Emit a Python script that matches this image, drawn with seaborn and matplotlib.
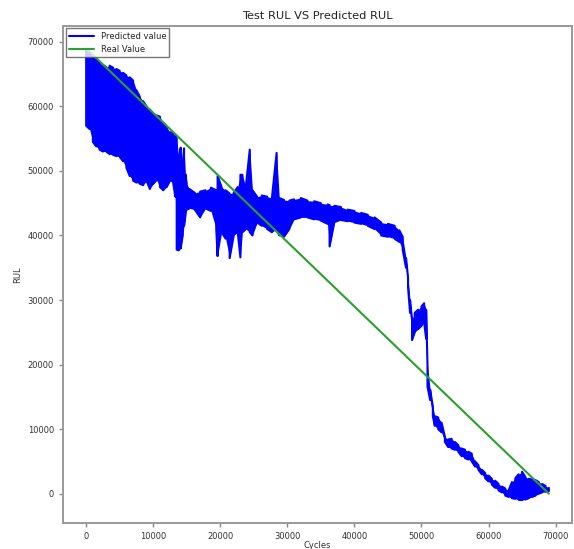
import matplotlib
matplotlib.use("Agg")
import matplotlib.pyplot as plt
import seaborn as sns
import pandas as pd

font_size = 6

sns.set_style("ticks")
plt.rcParams["font.family"] = ["DejaVu Sans"]

# envelope of the (noisy) predicted RUL
pred_cycles = [
    0, 500, 1000, 1500, 2000, 2500, 3000, 3500, 4000, 4500, 5000, 5500,
    6000, 6500, 7000, 7500, 8000, 8500, 9000, 9500, 10000, 10500, 11000,
    11500, 12000, 12500, 13000, 13300, 13500, 13800, 14100, 14400, 14600,
    14800, 15000, 15400, 16200, 17000, 17800, 18600, 19400, 19600, 20200,
    20800, 21400, 22000, 22600, 23000, 23300, 23800, 24400, 24800, 25500,
    26200, 27000, 27700, 28400, 28800, 29500, 30300, 31000, 32000, 33000,
    34000, 35000, 36000, 36300, 37000, 38000, 39000, 40000, 41000, 42000,
    43000, 44000, 45000, 46000, 46700, 47200, 47700, 48000, 48300, 48600,
    49000, 49500, 50000, 50400, 50700, 50900, 51300, 51700, 52000, 52500,
    53000, 53500, 54000, 54500, 55000, 55500, 56000, 56500, 57000, 57500,
    58000, 58500, 59000, 59500, 60000, 60500, 61000, 61500, 62000, 62500,
    63000, 63500, 64000, 64500, 65000, 65500, 66000, 66500, 67000, 67500,
    68000, 68500, 69000,
]
pred_upper = [
    68800, 68500, 67800, 67300, 66800, 66400, 66100, 66300, 66000, 65800,
    65500, 65200, 64800, 64500, 64000, 62500, 61500, 60800, 60000, 59500,
    58800, 58600, 58400, 57500, 56800, 56000, 55800, 55500, 55000, 52000,
    53600, 51000, 53500, 49500, 48000, 47200, 46600, 46800, 47000, 47400,
    47000, 49200, 47500, 47000, 46500, 46600, 47500, 49400, 49400, 47500,
    53300, 47000, 46000, 46200, 46000, 45800, 52800, 45800, 45500, 45400,
    45600, 45800, 45400, 45300, 45000, 44800, 44700, 44600, 44400, 44000,
    43800, 43500, 43200, 42800, 42000, 41800, 41500, 40800, 39800, 36500,
    33500, 30000, 27000, 28000, 28500, 29000, 29500, 28500, 20000, 16100,
    13500, 12000, 11800, 11000, 8800, 8400, 8500, 8000, 7500, 7000, 6800,
    6500, 6200, 5000, 4400, 3700, 3200, 2800, 2300, 2000, 1500, 1100, 800,
    500, 1800, 2400, 3000, 3400, 2600, 2300, 2200, 2100, 1800, 1500, 1200,
    900,
]
pred_lower = [
    57000, 56500, 54500, 53800, 53300, 53000, 53000, 52600, 52500, 52300,
    52200, 51500, 50500, 49200, 48500, 48200, 48000, 47800, 48500, 47200,
    48000, 48600, 47500, 47000, 47500, 48500, 48000, 46000, 37800, 37700,
    38000, 40000, 41500, 43000, 44000, 44200, 44000, 42800, 44200, 43800,
    41000, 36800, 40500, 39500, 36500, 40000, 40500, 36600, 40500, 41000,
    40500, 40000, 42000, 41500, 41000, 40500, 41000, 40000, 39800, 41000,
    42500, 42800, 42800, 42500, 42300, 41800, 38300, 42000, 42400, 42200,
    42000, 41800, 41500, 41000, 40000, 39800, 39500, 39000, 37800, 35000,
    32000, 28000, 23800, 25000, 25500, 26000, 26500, 24000, 16600, 14500,
    12000, 10500, 10000, 9500, 8000, 7200, 7000, 6800, 6500, 5800, 5500,
    5300, 5000, 4200, 3700, 3000, 2400, 1900, 1400, 900, 500, 200, -300,
    -500, -700, -800, -950, -1000, -900, -700, -500, -300, 0, 200, 300,
    400,
]

real_cycles = [0, 69000]
real_rul = [69000, 0]

# zigzag between upper and lower values so the band is drawn as one line
xs, ys = [], []
for i, c in enumerate(pred_cycles):
    if i % 2 == 0:
        xs += [c, c]
        ys += [pred_upper[i], pred_lower[i]]
    else:
        xs += [c, c]
        ys += [pred_lower[i], pred_upper[i]]
df_pred = pd.DataFrame({"Cycles": xs, "RUL": ys})
df_real = pd.DataFrame({"Cycles": real_cycles, "RUL": real_rul})

fig, ax = plt.subplots(figsize=(5.74, 5.49), dpi=100)
fig.subplots_adjust(left=0.1098, right=0.9965, top=0.9532, bottom=0.0479)

ax.fill_between(pred_cycles, pred_lower, pred_upper, color="blue", lw=0)
f = sns.lineplot(
    x="Cycles",
    y="RUL",
    data=df_pred,
    estimator=None,
    sort=False,
    color="blue",
    lw=1.5,
    label="Predicted value",
    ax=ax,
)
sns.lineplot(
    x="Cycles",
    y="RUL",
    data=df_real,
    estimator=None,
    sort=False,
    color="#2ca02c",
    lw=1.5,
    label="Real Value",
    ax=ax,
)

f.set_title("Test RUL VS Predicted RUL", fontsize=8.2, color="#222222", pad=5)
f.set_xlabel("Cycles", fontsize=font_size, color="#333333", labelpad=0.5)
f.set_ylabel("RUL", fontsize=font_size, color="#333333")
f.tick_params(labelsize=font_size, colors="#888888", labelcolor="#333333",
              length=3, width=1)
for sp in ax.spines.values():
    sp.set_color("#999999")
    sp.set_linewidth(1.4)

leg = ax.legend(loc="upper left", fontsize=font_size, fancybox=False,
                edgecolor="#555555", framealpha=0.8, borderaxespad=0.3,
                handlelength=3)
leg.get_frame().set_linewidth(1.0)

fig.savefig("out.png", dpi=100)
